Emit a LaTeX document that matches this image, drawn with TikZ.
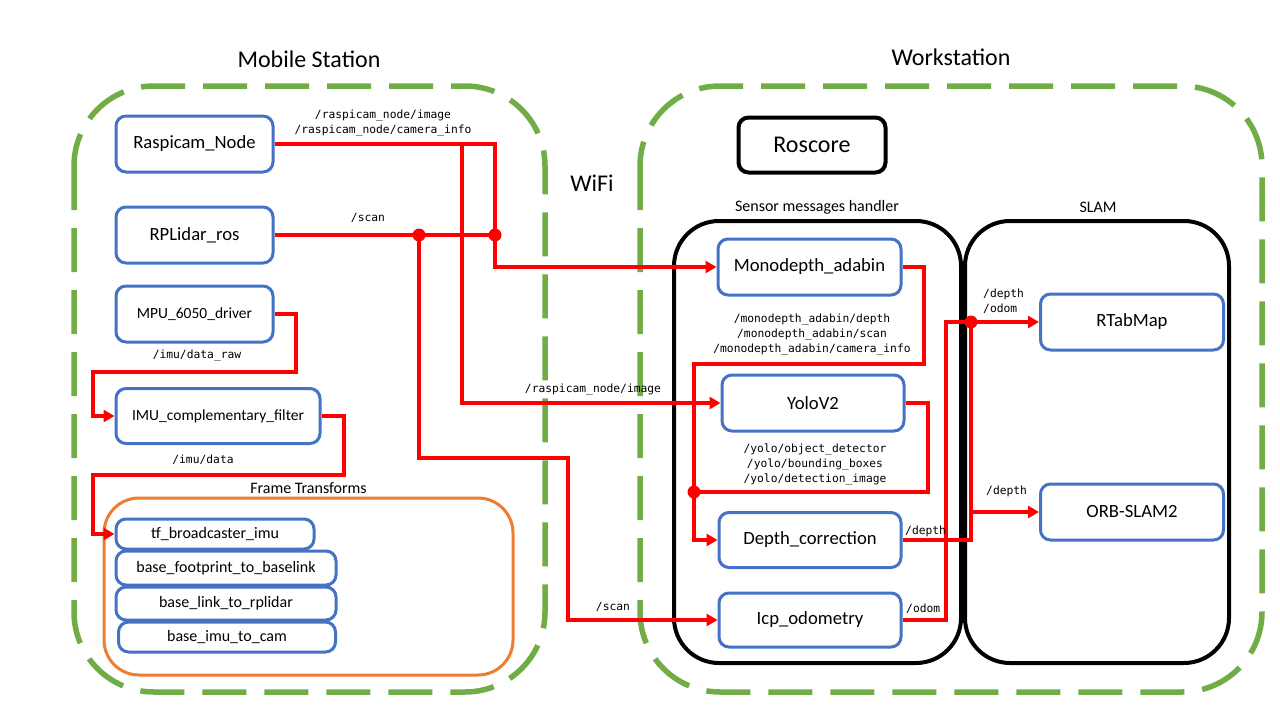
\documentclass[tikz,border=0pt]{standalone}
\usepackage{fontspec}
\setmainfont{Carlito}
\newfontfamily\monof{DejaVu Sans Mono}
\usetikzlibrary{arrows.meta}
\definecolor{grn}{HTML}{70AD47}
\definecolor{blu}{HTML}{4472C4}
\definecolor{org}{HTML}{ED7D31}
\definecolor{rd}{HTML}{FF0000}
\tikzset{
  greenbox/.style={draw=grn, line width=5.5pt, dash pattern=on 44pt off 18pt, rounded corners=80pt},
  blackbox/.style={draw=black, line width=4pt, rounded corners=45pt},
  orangebox/.style={draw=org, line width=3pt, rounded corners=35pt},
  bluebox/.style={draw=blu, line width=3pt, rounded corners=10pt, inner sep=0pt, align=center},
  bigfont/.style={font=\fontsize{18.67}{22}\selectfont},
  midfont/.style={font=\fontsize{15.5}{18}\selectfont},
  smallfont/.style={font=\fontsize{16}{18}\selectfont},
  titlefont/.style={font=\fontsize{24}{28}\selectfont},
  monolabel/.style={font=\monof\fontsize{11.3}{15}\selectfont, inner sep=0pt, align=center},
  redline/.style={draw=rd, line width=3.5pt},
  tip/.style={-{Triangle[length=11pt,width=12pt]}},
  dot/.style={circle, fill=rd, inner sep=0pt, minimum size=13pt}
}
\begin{document}
\begin{tikzpicture}[x=1pt,y=-1pt]
\useasboundingbox (0,0) rectangle (1280,720);
\fill[white] (0,0) rectangle (1280,720);

% big groups
\draw[greenbox] (74,86) rectangle (545,692);
\draw[greenbox] (640,86) rectangle (1262,692);
\node[titlefont] (tms) at (309,59) {Mobile Station};
\node[titlefont] (tws) at (951,57) {Workstation};
\node[titlefont] (wifi) at (592,183) {WiFi};

% sub groups
\draw[blackbox] (674,221) rectangle (961,663);
\draw[blackbox] (965,221) rectangle (1229,663);
\draw[orangebox] (104,498) rectangle (513,675);
\node[smallfont] (tsmh) at (817,207) {Sensor messages handler};
\node[smallfont] (tslam) at (1098,207) {SLAM};
\node[smallfont] (tft) at (308.5,488) {Frame Transforms};

% nodes
\node[bluebox, bigfont, minimum width=157pt, minimum height=56pt] (rasp) at (194.5,144) {Raspicam\_Node};
\node[bluebox, bigfont, minimum width=157pt, minimum height=56pt] (rpl) at (194.5,235) {RPLidar\_ros};
\node[bluebox, midfont, minimum width=157pt, minimum height=56pt] (mpu) at (194.5,314) {MPU\_6050\_driver};
\node[bluebox, midfont, minimum width=204pt, minimum height=55pt] (imu) at (218,416) {IMU\_complementary\_filter};
\node[bluebox, smallfont, minimum width=198pt, minimum height=30pt] (tf) at (215,534) {tf\_broadcaster\_imu};
\node[bluebox, smallfont, minimum width=220pt, minimum height=34pt] (bfp) at (226,568) {base\_footprint\_to\_baselink};
\node[bluebox, smallfont, minimum width=220pt, minimum height=33pt] (blr) at (226,603.5) {base\_link\_to\_rplidar};
\node[bluebox, smallfont, minimum width=217pt, minimum height=30pt] (bic) at (227,637) {base\_imu\_to\_cam};

\node[draw=black, line width=4pt, rounded corners=10pt, titlefont, minimum width=147pt, minimum height=55pt] (ros) at (812,145) {Roscore};
\node[bluebox, bigfont, minimum width=183pt, minimum height=56pt] (mono) at (809.5,267) {Monodepth\_adabin};
\node[bluebox, bigfont, minimum width=182pt, minimum height=56pt] (yolo) at (813,403) {YoloV2};
\node[bluebox, bigfont, minimum width=182pt, minimum height=55pt] (dc) at (810,540) {Depth\_correction};
\node[bluebox, bigfont, minimum width=182pt, minimum height=54pt] (icp) at (810,620) {Icp\_odometry};
\node[bluebox, bigfont, minimum width=183pt, minimum height=56pt] (rtab) at (1132,322) {RTabMap};
\node[bluebox, bigfont, minimum width=183pt, minimum height=56pt] (orb) at (1132,512) {ORB-SLAM2};

% junction coordinates
\coordinate (b1) at (462,144);
\coordinate (j1) at (419,235);
\coordinate (j2) at (495,235);
\coordinate (j3) at (694,492);
\coordinate (j4) at (971,322);
\coordinate (j5) at (971,512);

% connectors
\draw[redline, tip] (rasp.east) -| (495,267) -- (mono.west);
\draw[redline, tip] (b1) |- (yolo.west);
\draw[redline] (rpl.east) -- (j2);
\draw[redline, tip] (j1) |- (568,458) |- (icp.west);
\draw[redline, tip] (mpu.east) -| (296,372) -| (93,416) -- (imu.west);
\draw[redline, tip] (imu.east) -| (344,475) -| (93,534) -- (tf.west);
\draw[redline, tip] (mono.east) -| (924,364) -| (694,540) -- (dc.west);
\draw[redline] (yolo.east) -| (928,492) -- (j3);
\draw[redline] (icp.east) -| (946,322) -- (j4);
\draw[redline] (dc.east) -| (j4);
\draw[redline, tip] (j4) -- (rtab.west);
\draw[redline, tip] (j5) -- (orb.west);
\node[dot] at (j1) {};
\node[dot] at (j2) {};
\node[dot] at (j3) {};
\node[dot] at (j4) {};

% connector labels
\node[monolabel] (l1) at (383,123.5) {/raspicam\_node/image\\/raspicam\_node/camera\_info};
\node[monolabel] (l2) at (368,218) {/scan};
\node[monolabel] (l3) at (197,356) {/imu/data\_raw};
\node[monolabel] (l4) at (203,460) {/imu/data};
\node[monolabel] (l5) at (593,390) {/raspicam\_node/image};
\node[monolabel] (l6) at (613,607) {/scan};
\node[monolabel] (l7) at (812,334.5) {/monodepth\_adabin/depth\\/monodepth\_adabin/scan\\/monodepth\_adabin/camera\_info};
\node[monolabel] (l8) at (815,464.5) {/yolo/object\_detector\\/yolo/bounding\_boxes\\/yolo/detection\_image};
\node[monolabel, align=left, anchor=west] (l9) at (983,301.5) {/depth\\/odom};
\node[monolabel, anchor=west] (l10) at (986,491) {/depth};
\node[monolabel, anchor=west] (l11) at (905,531) {/depth};
\node[monolabel, anchor=west] (l12) at (906,609) {/odom};
\end{tikzpicture}
\end{document}
